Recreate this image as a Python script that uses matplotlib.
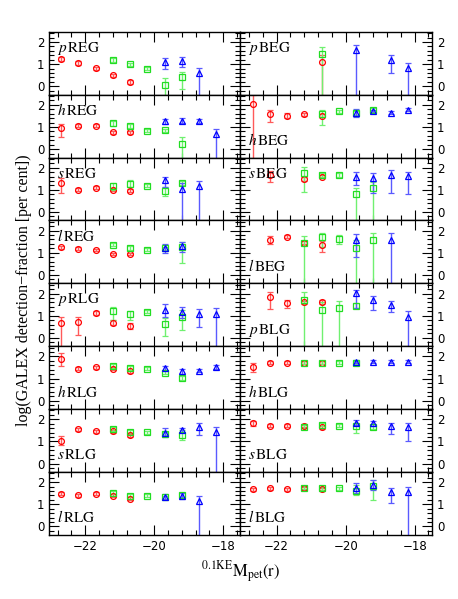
import numpy as np
import matplotlib
matplotlib.use('Agg')
from matplotlib import pyplot as plt
from matplotlib.ticker import MultipleLocator

nan = np.nan
OFF = 3.0  # lower bound of the bar falls below the panel

panels = ['pREG', 'hREG', 'sREG', 'lREG', 'pRLG', 'hRLG', 'sRLG', 'lRLG',
          'pBEG', 'hBEG', 'sBEG', 'lBEG', 'pBLG', 'hBLG', 'sBLG', 'lBLG']
label_at_bottom = ['hRLG', 'sRLG', 'lRLG', 'hBEG', 'lBEG', 'pBLG', 'hBLG', 'sBLG', 'lBLG']

red_x = [-22.7, -22.2, -21.7, -21.2, -20.7]
green_x = [-21.2, -20.7, -20.2, -19.7, -19.2]
blue_x = [-19.7, -19.2, -18.7, -18.2]

red_y = [[1.23, 1.05, 0.82, 0.49, 0.19],
         [0.95, 1.05, 1.06, 0.77, 0.77],
         [1.30, 1.00, 1.10, 1.00, 0.97],
         [1.25, 1.18, 1.13, 0.95, 0.95],
         [0.69, 0.71, 1.11, 0.69, 0.54],
         [1.89, 1.44, 1.51, 1.44, 1.32],
         [1.04, 1.55, 1.45, 1.45, 1.27],
         [1.47, 1.40, 1.47, 1.38, 1.25],
         [nan, nan, nan, nan, 1.09],
         [2.04, 1.59, 1.51, 1.57, 1.51],
         [nan, 1.68, nan, 1.50, 1.60],
         [nan, 1.58, 1.73, 1.46, 1.36],
         [nan, 1.86, 1.56, 1.61, 1.61],
         [1.54, 1.72, 1.72, 1.72, 1.72],
         [1.82, 1.70, 1.70, 1.70, 1.64],
         [1.68, 1.73, 1.68, 1.73, 1.68]]
red_eu = [[0.07, 0.07, 0.07, 0.07, 0.07],
          [0.18, 0.07, 0.07, 0.07, 0.07],
          [0.22, 0.07, 0.07, 0.07, 0.07],
          [0.06, 0.06, 0.06, 0.06, 0.06],
          [0.27, 0.25, 0.08, 0.10, 0.12],
          [0.25, 0.07, 0.07, 0.07, 0.07],
          [0.20, 0.07, 0.07, 0.07, 0.07],
          [0.07, 0.07, 0.07, 0.07, 0.07],
          [nan, nan, nan, nan, 0.30],
          [0.41, 0.18, 0.10, 0.08, 0.08],
          [nan, 0.15, nan, 0.08, 0.08],
          [nan, 0.18, 0.08, 0.08, 0.19],
          [nan, 0.23, 0.15, 0.07, 0.08],
          [0.18, 0.07, 0.07, 0.07, 0.07],
          [0.12, 0.07, 0.07, 0.07, 0.07],
          [0.07, 0.07, 0.07, 0.07, 0.07]]
red_el = [[0.07, 0.07, 0.07, 0.07, 0.07],
          [0.41, 0.07, 0.07, 0.07, 0.07],
          [0.45, 0.07, 0.07, 0.07, 0.07],
          [0.06, 0.06, 0.06, 0.06, 0.06],
          [OFF, 0.58, 0.08, 0.10, 0.12],
          [0.32, 0.07, 0.07, 0.07, 0.07],
          [0.20, 0.07, 0.07, 0.07, 0.07],
          [0.07, 0.07, 0.07, 0.07, 0.07],
          [nan, nan, nan, nan, OFF],
          [OFF, 0.38, 0.10, 0.08, 0.08],
          [nan, 0.31, nan, 0.08, 0.08],
          [nan, 0.18, 0.08, 0.08, 0.31],
          [nan, 0.57, 0.22, 0.07, 0.08],
          [0.23, 0.07, 0.07, 0.07, 0.07],
          [0.12, 0.07, 0.07, 0.07, 0.07],
          [0.07, 0.07, 0.07, 0.07, 0.07]]

green_y = [[1.19, 1.00, 0.79, 0.07, 0.41],
           [1.17, 1.05, 0.84, 0.86, 0.24],
           [1.16, 1.28, 1.19, 0.94, 1.31],
           [1.36, 1.21, 1.13, 1.21, 1.25],
           [1.23, 1.08, 1.18, 0.62, 0.96],
           [1.57, 1.47, 1.44, 1.27, 1.02],
           [1.55, 1.44, 1.42, 1.34, 1.30],
           [1.53, 1.38, 1.38, 1.31, 1.43],
           [nan, 1.45, nan, nan, nan],
           [nan, 1.57, 1.70, 1.64, 1.77],
           [1.78, 1.68, 1.68, 0.82, 1.07],
           [1.46, 1.73, 1.61, 1.21, 1.58],
           [1.71, 1.26, 1.34, 1.45, nan],
           [1.72, 1.72, 1.72, 1.72, nan],
           [1.67, 1.75, 1.70, 1.70, 1.67],
           [1.76, 1.73, 1.73, 1.62, 1.81]]
green_eu = [[0.08, 0.07, 0.07, 0.32, 0.23],
            [0.12, 0.10, 0.07, 0.07, 0.29],
            [0.15, 0.15, 0.07, 0.20, 0.10],
            [0.07, 0.08, 0.07, 0.07, 0.25],
            [0.18, 0.15, 0.07, 0.27, 0.30],
            [0.08, 0.08, 0.07, 0.07, 0.10],
            [0.08, 0.07, 0.07, 0.07, 0.22],
            [0.08, 0.07, 0.07, 0.07, 0.10],
            [nan, 0.30, nan, nan, nan],
            [nan, 0.20, 0.07, 0.10, 0.10],
            [0.27, 0.10, 0.10, 0.25, 0.30],
            [0.30, 0.18, 0.19, 0.37, 0.33],
            [0.38, 0.35, 0.30, 0.10, nan],
            [0.07, 0.07, 0.07, 0.07, nan],
            [0.07, 0.07, 0.07, 0.15, 0.10],
            [0.07, 0.07, 0.07, 0.26, 0.29]]
green_el = [[0.08, 0.07, 0.07, OFF, 0.54],
            [0.12, 0.10, 0.07, 0.07, OFF],
            [0.15, 0.15, 0.07, 0.20, 0.10],
            [0.07, 0.08, 0.07, 0.07, 0.71],
            [0.43, 0.28, 0.07, 0.56, 0.61],
            [0.08, 0.08, 0.07, 0.07, 0.10],
            [0.08, 0.07, 0.07, 0.07, 0.23],
            [0.08, 0.07, 0.07, 0.07, 0.10],
            [nan, OFF, nan, nan, nan],
            [nan, 0.48, 0.07, 0.10, 0.10],
            [0.88, 0.10, 0.10, OFF, OFF],
            [OFF, 0.48, 0.21, OFF, OFF],
            [OFF, OFF, OFF, 0.10, nan],
            [0.07, 0.07, 0.07, 0.07, nan],
            [0.07, 0.07, 0.07, 0.33, 0.10],
            [0.07, 0.07, 0.07, 0.19, 0.60]]

blue_y = [[1.09, 1.15, 0.58, nan],
          [1.26, 1.29, 1.26, 0.69],
          [1.43, 1.06, 1.16, nan],
          [1.21, 1.30, nan, nan],
          [1.26, 1.18, 1.08, 1.08],
          [1.47, 1.32, 1.35, 1.51],
          [1.40, 1.52, 1.67, 1.44],
          [1.35, 1.38, 1.13, nan],
          [1.65, nan, 1.20, 0.83],
          [1.64, 1.70, 1.64, 1.77],
          [1.60, 1.55, 1.68, 1.63],
          [1.58, nan, 1.58, nan],
          [2.01, 1.71, 1.49, 0.96],
          [1.77, 1.77, 1.77, 1.77],
          [1.85, 1.82, 1.70, 1.64],
          [1.73, 1.88, 1.57, 1.57]]
blue_eu = [[0.18, 0.19, 0.24, nan],
           [0.12, 0.12, 0.10, 0.24],
           [0.15, 0.25, 0.23, nan],
           [0.19, 0.20, nan, nan],
           [0.27, 0.23, 0.20, 0.25],
           [0.10, 0.10, 0.07, 0.08],
           [0.20, 0.10, 0.15, 0.23],
           [0.12, 0.12, 0.25, nan],
           [0.22, nan, 0.19, 0.23],
           [0.18, 0.07, 0.07, 0.07],
           [0.20, 0.20, 0.22, 0.17],
           [0.27, nan, 0.33, nan],
           [0.15, 0.18, 0.15, 0.27],
           [0.07, 0.07, 0.07, 0.07],
           [0.12, 0.10, 0.15, 0.18],
           [0.22, 0.22, 0.16, 0.20]]
blue_el = [[0.32, 0.29, OFF, nan],
           [0.12, 0.12, 0.10, OFF],
           [0.30, OFF, OFF, nan],
           [0.23, 0.25, nan, nan],
           [0.30, 0.29, 0.61, OFF],
           [0.10, 0.10, 0.07, 0.08],
           [0.18, 0.10, 0.37, OFF],
           [0.12, 0.12, OFF, nan],
           [OFF, nan, 0.61, OFF],
           [0.20, 0.07, 0.07, 0.07],
           [0.37, 0.68, 0.81, 0.81],
           [0.78, nan, OFF, nan],
           [0.67, 0.45, 0.31, OFF],
           [0.07, 0.07, 0.07, 0.07],
           [0.12, 0.10, 0.36, 0.64],
           [0.23, 0.22, 0.49, OFF]]

plt.rcParams['font.family'] = ['Liberation Serif', 'DejaVu Serif']
plt.rcParams['mathtext.fontset'] = 'stix'

fig, axes = plt.subplots(8, 2, figsize=(4.58, 5.99), dpi=100)
fig.subplots_adjust(left=0.107, right=0.943, top=0.947, bottom=0.107,
                    wspace=0, hspace=0)

series = [(red_x, red_y, red_eu, red_el, 'o', '#ff0000', '#ff5a5a', 4.2),
          (green_x, green_y, green_eu, green_el, 's', '#22dd22', '#70f070', 3.8),
          (blue_x, blue_y, blue_eu, blue_el, '^', '#0000ff', '#5a5aff', 4.8)]

for k, name in enumerate(panels):
    col = k // 8
    row = k % 8
    ax = axes[row, col]
    for xs, ys, eu, el, mk, c, ec, ms in series:
        ax.errorbar(xs, ys[k], yerr=[el[k], eu[k]], fmt=mk, mfc='none', mec=c,
                    mew=0.9, ms=ms, ecolor=ec, elinewidth=1.0, capsize=2.5,
                    capthick=1.0)
    ax.set_xlim(-23.05, -17.5)
    ax.set_ylim(-0.38, 2.46)
    ax.xaxis.set_major_locator(MultipleLocator(2))
    ax.xaxis.set_minor_locator(MultipleLocator(0.4))
    ax.yaxis.set_major_locator(MultipleLocator(1))
    ax.yaxis.set_minor_locator(MultipleLocator(0.2))
    ax.tick_params(which='both', direction='in', top=True, right=True,
                   bottom=True, left=True, labelfontfamily='DejaVu Sans',
                   labelsize=8.5, width=0.8)
    ax.tick_params(which='major', length=7)
    ax.tick_params(which='minor', length=3.5)
    if col == 0:
        ax.tick_params(labelleft=True, labelright=False)
    else:
        ax.tick_params(labelleft=False, labelright=True)
    if row < 7:
        ax.tick_params(labelbottom=False)
    for s in ax.spines.values():
        s.set_linewidth(1.0)
    lab = r'$\mathit{' + name[0] + r'}\,\mathrm{' + name[1:] + '}$'
    ypos = 0.2 if name in label_at_bottom else 0.68
    ax.text(0.04, ypos, lab, transform=ax.transAxes, fontsize=11,
            va='baseline', ha='left')

fig.text(0.052, 0.515, 'log(GALEX detection\u2212fraction [per cent])',
         rotation=90, ha='center', va='center', fontsize=11.5)
fig.text(0.525, 0.045, r'$^{\rm 0.1KE}{\rm M}_{\rm pet}({\rm r})$',
         ha='center', va='center', fontsize=12)

plt.savefig('out.png', dpi=100)
